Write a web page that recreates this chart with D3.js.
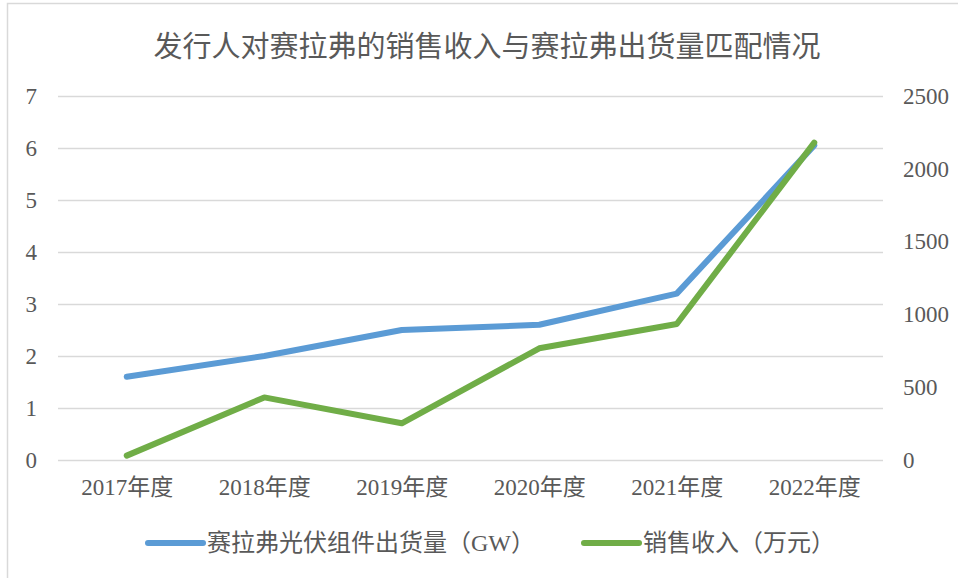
<!DOCTYPE html>
<html>
<head>
<meta charset="utf-8">
<script src="https://cdn.jsdelivr.net/npm/d3@7"></script>
<style>
  body { margin: 0; background: #fff; }
  svg text { font-family: "Liberation Serif", "Noto Sans CJK SC", serif; fill: #595959; }
  .grid line { stroke: #d9d9d9; stroke-width: 1.5; }
  .grid path { display: none; }
  .axis path, .axis line { display: none; }
</style>
</head>
<body>
<svg width="958" height="578"></svg>
<script>
const years = ["2017年度", "2018年度", "2019年度", "2020年度", "2021年度", "2022年度"];
const shipments = [1.6, 2.0, 2.5, 2.6, 3.2, 6.05];   // GW, left axis
const revenue = [30, 430, 252, 767, 934, 2180];        // 万元, right axis
const leftTicks = [0, 1, 2, 3, 4, 5, 6, 7];
const rightTicks = [0, 500, 1000, 1500, 2000, 2500];
const seriesNames = ["赛拉弗光伏组件出货量（GW）", "销售收入（万元）"];
const title = "发行人对赛拉弗的销售收入与赛拉弗出货量匹配情况";

const svg = d3.select("svg");
const margin = { top: 96, right: 75, bottom: 118, left: 58 };
const width = 958 - margin.left - margin.right;
const height = 578 - margin.top - margin.bottom;

// outer chart border
svg.append("rect")
  .attr("x", 7.5).attr("y", 3.5)
  .attr("width", 970).attr("height", 600)
  .attr("fill", "none").attr("stroke", "#d9d9d9").attr("stroke-width", 1.5);

svg.append("text")
  .attr("x", 487).attr("y", 57)
  .attr("text-anchor", "middle")
  .style("font-size", "29px")
  .text(title);

const g = svg.append("g").attr("transform", `translate(${margin.left},${margin.top})`);

const x = d3.scalePoint().domain(years).range([0, width]).padding(0.5);
const yL = d3.scaleLinear().domain([0, 7]).range([height, 0]);
const yR = d3.scaleLinear().domain([0, 2500]).range([height, 0]);

g.append("g")
  .attr("class", "grid")
  .call(d3.axisLeft(yL).tickValues(leftTicks).tickSize(-width).tickFormat(""));

g.append("g")
  .attr("class", "axis")
  .call(d3.axisLeft(yL).tickValues(leftTicks).tickFormat(d3.format("d")).tickSize(0).tickPadding(21))
  .selectAll("text")
  .style("font-size", "23px");

g.append("g")
  .attr("class", "axis")
  .attr("transform", `translate(${width},0)`)
  .call(d3.axisRight(yR).tickValues(rightTicks).tickFormat(d3.format("d")).tickSize(0).tickPadding(20))
  .selectAll("text")
  .style("font-size", "23px");

g.append("g")
  .attr("class", "axis")
  .attr("transform", `translate(0,${height})`)
  .call(d3.axisBottom(x).tickSize(0).tickPadding(19))
  .selectAll("text")
  .style("font-size", "23px");

const lineL = d3.line().x((d, i) => x(years[i])).y(d => yL(d));
const lineR = d3.line().x((d, i) => x(years[i])).y(d => yR(d));

g.append("path")
  .datum(shipments)
  .attr("fill", "none")
  .attr("stroke", "#5b9bd5")
  .attr("stroke-width", 6)
  .attr("stroke-linecap", "round")
  .attr("stroke-linejoin", "round")
  .attr("d", lineL);

g.append("path")
  .datum(revenue)
  .attr("fill", "none")
  .attr("stroke", "#70ad47")
  .attr("stroke-width", 6)
  .attr("stroke-linecap", "round")
  .attr("stroke-linejoin", "round")
  .attr("d", lineR);

// legend
const legend = svg.append("g").attr("transform", "translate(0,543)");
const legendItems = [
  { name: seriesNames[0], color: "#5b9bd5", x: 148 },
  { name: seriesNames[1], color: "#70ad47", x: 584 }
];
legendItems.forEach(d => {
  legend.append("line")
    .attr("x1", d.x).attr("x2", d.x + 55)
    .attr("y1", 0).attr("y2", 0)
    .attr("stroke", d.color)
    .attr("stroke-width", 6)
    .attr("stroke-linecap", "round");
  legend.append("text")
    .attr("x", d.x + 59).attr("y", 8)
    .style("font-size", "24px")
    .text(d.name);
});
</script>
</body>
</html>
